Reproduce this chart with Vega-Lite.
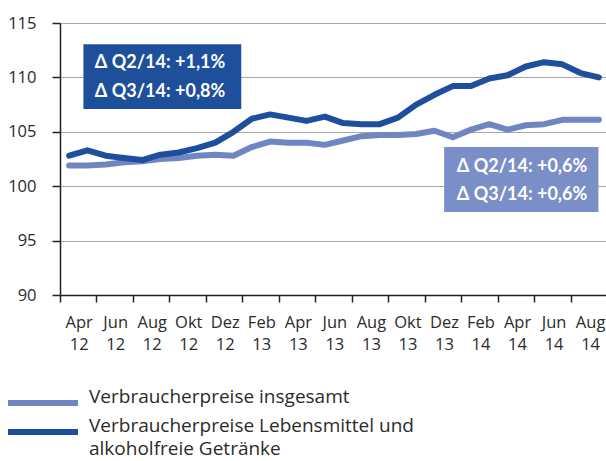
{
  "$schema": "https://vega.github.io/schema/vega-lite/v6.json",
  "width": 548,
  "height": 272,
  "autosize": {"type": "none"},
  "padding": {"left": 60, "top": 23, "right": 0, "bottom": 166},
  "background": "white",
  "config": {"view": {"stroke": null}, "font": "Open Sans", "style": {"guide-label": {"lineHeight": 23}}},
  "resolve": {"scale": {"x": "independent"}, "axis": {"x": "independent"}},
  "datasets": {
    "serien": [
      {"monat": "2012-04", "reihe": "Verbraucherpreise insgesamt", "wert": 101.9},
      {"monat": "2012-05", "reihe": "Verbraucherpreise insgesamt", "wert": 101.9},
      {"monat": "2012-06", "reihe": "Verbraucherpreise insgesamt", "wert": 102.0},
      {"monat": "2012-07", "reihe": "Verbraucherpreise insgesamt", "wert": 102.2},
      {"monat": "2012-08", "reihe": "Verbraucherpreise insgesamt", "wert": 102.3},
      {"monat": "2012-09", "reihe": "Verbraucherpreise insgesamt", "wert": 102.5},
      {"monat": "2012-10", "reihe": "Verbraucherpreise insgesamt", "wert": 102.6},
      {"monat": "2012-11", "reihe": "Verbraucherpreise insgesamt", "wert": 102.8},
      {"monat": "2012-12", "reihe": "Verbraucherpreise insgesamt", "wert": 102.9},
      {"monat": "2013-01", "reihe": "Verbraucherpreise insgesamt", "wert": 102.8},
      {"monat": "2013-02", "reihe": "Verbraucherpreise insgesamt", "wert": 103.6},
      {"monat": "2013-03", "reihe": "Verbraucherpreise insgesamt", "wert": 104.1},
      {"monat": "2013-04", "reihe": "Verbraucherpreise insgesamt", "wert": 104.0},
      {"monat": "2013-05", "reihe": "Verbraucherpreise insgesamt", "wert": 104.0},
      {"monat": "2013-06", "reihe": "Verbraucherpreise insgesamt", "wert": 103.8},
      {"monat": "2013-07", "reihe": "Verbraucherpreise insgesamt", "wert": 104.2},
      {"monat": "2013-08", "reihe": "Verbraucherpreise insgesamt", "wert": 104.6},
      {"monat": "2013-09", "reihe": "Verbraucherpreise insgesamt", "wert": 104.7},
      {"monat": "2013-10", "reihe": "Verbraucherpreise insgesamt", "wert": 104.7},
      {"monat": "2013-11", "reihe": "Verbraucherpreise insgesamt", "wert": 104.8},
      {"monat": "2013-12", "reihe": "Verbraucherpreise insgesamt", "wert": 105.1},
      {"monat": "2014-01", "reihe": "Verbraucherpreise insgesamt", "wert": 104.5},
      {"monat": "2014-02", "reihe": "Verbraucherpreise insgesamt", "wert": 105.2},
      {"monat": "2014-03", "reihe": "Verbraucherpreise insgesamt", "wert": 105.7},
      {"monat": "2014-04", "reihe": "Verbraucherpreise insgesamt", "wert": 105.2},
      {"monat": "2014-05", "reihe": "Verbraucherpreise insgesamt", "wert": 105.6},
      {"monat": "2014-06", "reihe": "Verbraucherpreise insgesamt", "wert": 105.7},
      {"monat": "2014-07", "reihe": "Verbraucherpreise insgesamt", "wert": 106.1},
      {"monat": "2014-08", "reihe": "Verbraucherpreise insgesamt", "wert": 106.1},
      {"monat": "2014-09", "reihe": "Verbraucherpreise insgesamt", "wert": 106.1},
      {"monat": "2012-04", "reihe": "Verbraucherpreise Lebensmittel und alkoholfreie Getränke", "wert": 102.8},
      {"monat": "2012-05", "reihe": "Verbraucherpreise Lebensmittel und alkoholfreie Getränke", "wert": 103.3},
      {"monat": "2012-06", "reihe": "Verbraucherpreise Lebensmittel und alkoholfreie Getränke", "wert": 102.8},
      {"monat": "2012-07", "reihe": "Verbraucherpreise Lebensmittel und alkoholfreie Getränke", "wert": 102.6},
      {"monat": "2012-08", "reihe": "Verbraucherpreise Lebensmittel und alkoholfreie Getränke", "wert": 102.4},
      {"monat": "2012-09", "reihe": "Verbraucherpreise Lebensmittel und alkoholfreie Getränke", "wert": 102.9},
      {"monat": "2012-10", "reihe": "Verbraucherpreise Lebensmittel und alkoholfreie Getränke", "wert": 103.1},
      {"monat": "2012-11", "reihe": "Verbraucherpreise Lebensmittel und alkoholfreie Getränke", "wert": 103.5},
      {"monat": "2012-12", "reihe": "Verbraucherpreise Lebensmittel und alkoholfreie Getränke", "wert": 104.0},
      {"monat": "2013-01", "reihe": "Verbraucherpreise Lebensmittel und alkoholfreie Getränke", "wert": 105.0},
      {"monat": "2013-02", "reihe": "Verbraucherpreise Lebensmittel und alkoholfreie Getränke", "wert": 106.2},
      {"monat": "2013-03", "reihe": "Verbraucherpreise Lebensmittel und alkoholfreie Getränke", "wert": 106.6},
      {"monat": "2013-04", "reihe": "Verbraucherpreise Lebensmittel und alkoholfreie Getränke", "wert": 106.3},
      {"monat": "2013-05", "reihe": "Verbraucherpreise Lebensmittel und alkoholfreie Getränke", "wert": 106.0},
      {"monat": "2013-06", "reihe": "Verbraucherpreise Lebensmittel und alkoholfreie Getränke", "wert": 106.4},
      {"monat": "2013-07", "reihe": "Verbraucherpreise Lebensmittel und alkoholfreie Getränke", "wert": 105.8},
      {"monat": "2013-08", "reihe": "Verbraucherpreise Lebensmittel und alkoholfreie Getränke", "wert": 105.7},
      {"monat": "2013-09", "reihe": "Verbraucherpreise Lebensmittel und alkoholfreie Getränke", "wert": 105.7},
      {"monat": "2013-10", "reihe": "Verbraucherpreise Lebensmittel und alkoholfreie Getränke", "wert": 106.3},
      {"monat": "2013-11", "reihe": "Verbraucherpreise Lebensmittel und alkoholfreie Getränke", "wert": 107.5},
      {"monat": "2013-12", "reihe": "Verbraucherpreise Lebensmittel und alkoholfreie Getränke", "wert": 108.4},
      {"monat": "2014-01", "reihe": "Verbraucherpreise Lebensmittel und alkoholfreie Getränke", "wert": 109.2},
      {"monat": "2014-02", "reihe": "Verbraucherpreise Lebensmittel und alkoholfreie Getränke", "wert": 109.2},
      {"monat": "2014-03", "reihe": "Verbraucherpreise Lebensmittel und alkoholfreie Getränke", "wert": 109.9},
      {"monat": "2014-04", "reihe": "Verbraucherpreise Lebensmittel und alkoholfreie Getränke", "wert": 110.2},
      {"monat": "2014-05", "reihe": "Verbraucherpreise Lebensmittel und alkoholfreie Getränke", "wert": 111.0},
      {"monat": "2014-06", "reihe": "Verbraucherpreise Lebensmittel und alkoholfreie Getränke", "wert": 111.4},
      {"monat": "2014-07", "reihe": "Verbraucherpreise Lebensmittel und alkoholfreie Getränke", "wert": 111.2},
      {"monat": "2014-08", "reihe": "Verbraucherpreise Lebensmittel und alkoholfreie Getränke", "wert": 110.4},
      {"monat": "2014-09", "reihe": "Verbraucherpreise Lebensmittel und alkoholfreie Getränke", "wert": 110.0}
    ],
    "boxDunkel": [{"von": "2012-05-10", "bis": "2013-01-28", "oben": 113.04, "unten": 107.1}],
    "textDunkel": [
      {"datum": "2012-05-29", "wert": 111.3, "text": "Δ Q2/14: +1,1%"},
      {"datum": "2012-05-29", "wert": 108.63, "text": "Δ Q3/14: +0,8%"}
    ],
    "boxHell": [{"von": "2014-01-01", "bis": "2014-09-15", "oben": 103.6, "unten": 97.63}],
    "textHell": [
      {"datum": "2014-01-22", "wert": 101.77, "text": "Δ Q2/14: +0,6%"},
      {"datum": "2014-01-22", "wert": 99.16, "text": "Δ Q3/14: +0,6%"}
    ]
  },
  "layer": [
    {
      "data": {"name": "serien"},
      "mark": {"type": "line", "strokeWidth": 6, "strokeJoin": "round", "strokeCap": "round"},
      "encoding": {
        "x": {
          "field": "monat", "type": "ordinal", "bandPosition": 0.5,
          "scale": {
            "type": "band", "paddingInner": 0, "paddingOuter": 0,
            "domain": ["2012-04","2012-05","2012-06","2012-07","2012-08","2012-09","2012-10","2012-11","2012-12","2013-01","2013-02","2013-03","2013-04","2013-05","2013-06","2013-07","2013-08","2013-09","2013-10","2013-11","2013-12","2014-01","2014-02","2014-03","2014-04","2014-05","2014-06","2014-07","2014-08","2014-09"]
          },
          "axis": {
            "title": null, "grid": false, "bandPosition": 0,
            "values": ["2012-04","2012-06","2012-08","2012-10","2012-12","2013-02","2013-04","2013-06","2013-08","2013-10","2013-12","2014-02","2014-04","2014-06","2014-08"],
            "labelExpr": "[['Jan','Feb','Mär','Apr','Mai','Jun','Jul','Aug','Sep','Okt','Nov','Dez'][toNumber(substring(datum.value, 5, 7)) - 1], substring(datum.value, 2, 4)]",
            "labelOffset": 10, "labelAlign": "center", "labelBaseline": "top", "labelAngle": 0,
            "labelFontSize": 16.5, "labelLineHeight": 22.5, "labelPadding": 12, "labelColor": "#2b2b2b",
            "labelFlush": false, "labelOverlap": false, "labelBound": false,
            "tickSize": 7, "tickWidth": 1.5, "tickColor": "#222", "domainColor": "#222", "domainWidth": 1.5
          }
        },
        "y": {
          "field": "wert", "type": "quantitative",
          "scale": {"domain": [90, 115], "zero": false, "nice": false},
          "axis": {
            "title": null, "values": [90, 95, 100, 105, 110, 115],
            "grid": true, "gridColor": "#a8a8a8", "gridWidth": 1.2,
            "labelFontSize": 16.5, "labelPadding": 16, "labelColor": "#2b2b2b",
            "tickSize": 8, "tickWidth": 1.5, "tickColor": "#222", "domainColor": "#222", "domainWidth": 1.5
          }
        },
        "color": {
          "field": "reihe", "type": "nominal",
          "scale": {"domain": ["Verbraucherpreise insgesamt", "Verbraucherpreise Lebensmittel und alkoholfreie Getränke"], "range": ["#7086c3", "#1d4f9c"]},
          "legend": {
            "orient": "none", "legendX": -27, "legendY": 370, "title": null,
            "symbolType": "M-5,0H5", "symbolSize": 196, "symbolStrokeWidth": 6,
            "labelFontSize": 19, "labelOffset": 36, "labelBaseline": "alphabetic", "labelLimit": 500,
            "labelColor": "#2b2b2b", "rowPadding": 2,
            "labelExpr": "datum.label == 'Verbraucherpreise insgesamt' ? datum.label : ['Verbraucherpreise Lebensmittel und', 'alkoholfreie Getränke']"
          }
        }
      }
    },
    {
      "data": {"name": "boxDunkel"},
      "mark": {"type": "rect", "color": "#1e4f9b"},
      "encoding": {
        "x": {"field": "von", "type": "temporal", "axis": null, "scale": {"type": "utc", "domain": [{"year": 2012, "month": 4, "date": 1, "utc": true}, {"year": 2014, "month": 10, "date": 1, "utc": true}]}},
        "x2": {"field": "bis"},
        "y": {"field": "oben", "type": "quantitative"},
        "y2": {"field": "unten"}
      }
    },
    {
      "data": {"name": "textDunkel"},
      "mark": {"type": "text", "align": "left", "baseline": "middle", "fontSize": 18, "fontWeight": "bold", "color": "white", "font": "Lato"},
      "encoding": {
        "x": {"field": "datum", "type": "temporal", "axis": null, "scale": {"type": "utc", "domain": [{"year": 2012, "month": 4, "date": 1, "utc": true}, {"year": 2014, "month": 10, "date": 1, "utc": true}]}},
        "y": {"field": "wert", "type": "quantitative"},
        "text": {"field": "text"}
      }
    },
    {
      "data": {"name": "boxHell"},
      "mark": {"type": "rect", "color": "#7a8ec7"},
      "encoding": {
        "x": {"field": "von", "type": "temporal", "axis": null, "scale": {"type": "utc", "domain": [{"year": 2012, "month": 4, "date": 1, "utc": true}, {"year": 2014, "month": 10, "date": 1, "utc": true}]}},
        "x2": {"field": "bis"},
        "y": {"field": "oben", "type": "quantitative"},
        "y2": {"field": "unten"}
      }
    },
    {
      "data": {"name": "textHell"},
      "mark": {"type": "text", "align": "left", "baseline": "middle", "fontSize": 18, "fontWeight": "bold", "color": "white", "font": "Lato"},
      "encoding": {
        "x": {"field": "datum", "type": "temporal", "axis": null, "scale": {"type": "utc", "domain": [{"year": 2012, "month": 4, "date": 1, "utc": true}, {"year": 2014, "month": 10, "date": 1, "utc": true}]}},
        "y": {"field": "wert", "type": "quantitative"},
        "text": {"field": "text"}
      }
    }
  ]
}
